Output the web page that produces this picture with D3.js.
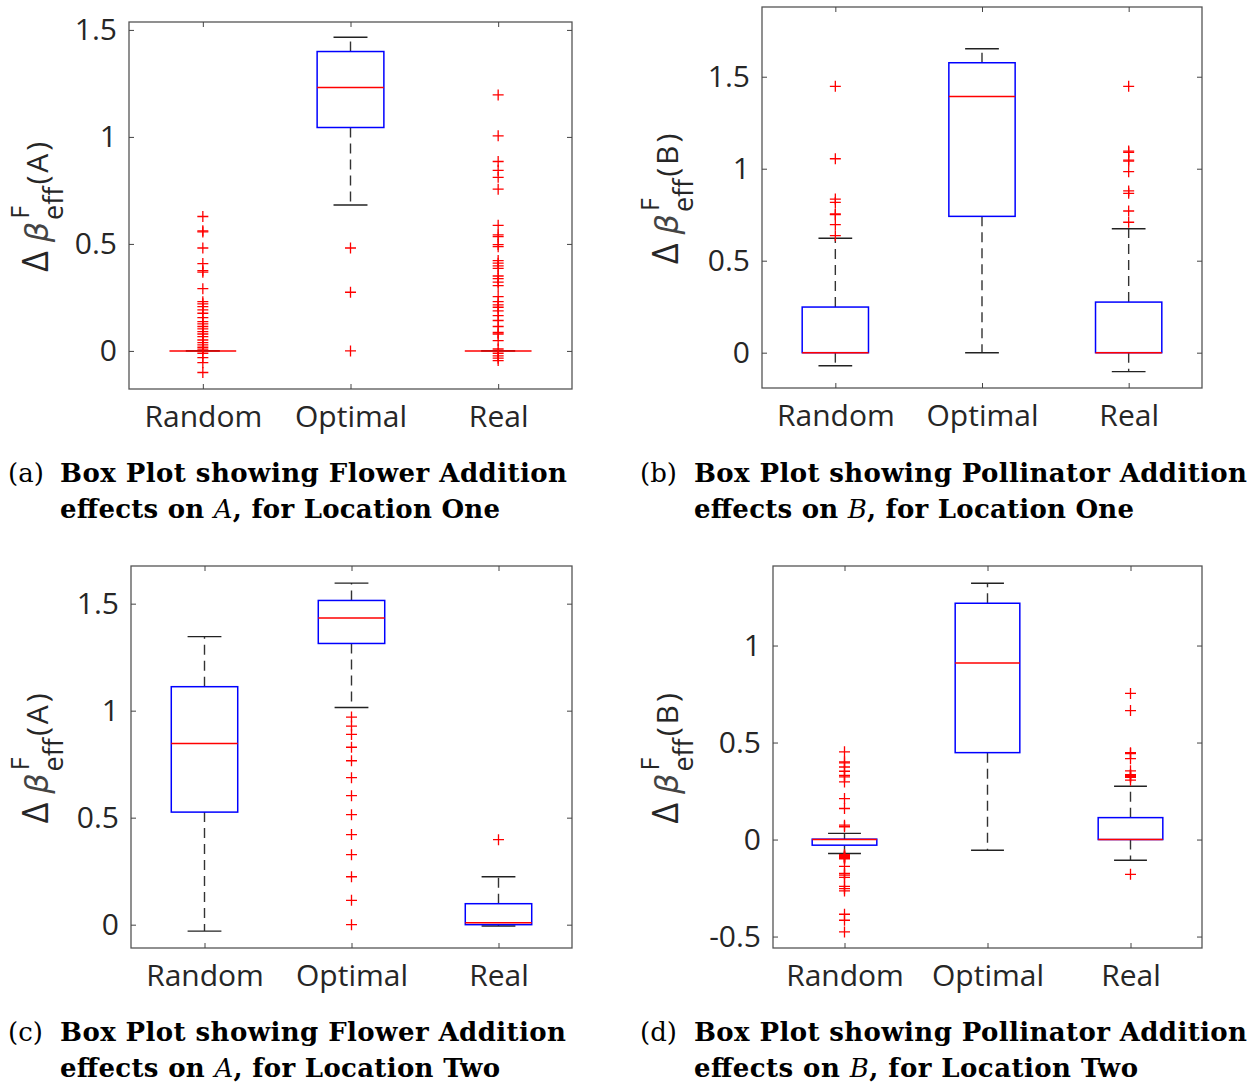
<!DOCTYPE html>
<html>
<head>
<meta charset="utf-8">
<title>box plots</title>
<script src="https://cdn.jsdelivr.net/npm/d3@7"></script>
<style>
  body { margin: 0; background: #fff; }
  .tick text { font-family: "Open Sans", sans-serif; font-size: 30px; fill: #262626; }
  .tick line { stroke: #444; }
  .cap { font-family: "DejaVu Serif", serif; font-size: 26px; fill: #000; }
</style>
</head>
<body>
<script>
// categories and tick values
var categories = ["Random", "Optimal", "Real"];
var ticksABC = [0, 0.5, 1, 1.5];
var ticksD = [-0.5, 0, 0.5, 1];

// box stats per category: [lowWhisker, q1, median, q3, highWhisker]
var statsA = [[0, 0, 0, 0, 0], [0.682, 1.044, 1.231, 1.399, 1.466], [0, 0, 0, 0, 0]];
var statsB = [[-0.071, 0, 0, 0.248, 0.622], [0, 0.741, 1.393, 1.576, 1.652], [-0.103, 0, 0, 0.275, 0.674]];
var statsC = [[-0.030, 0.526, 0.846, 1.112, 1.346], [1.015, 1.314, 1.433, 1.515, 1.596], [-0.006, 0, 0.009, 0.098, 0.224]];
var statsD = [[-0.072, -0.029, 0, 0.002, 0.032], [-0.055, 0.448, 0.910, 1.218, 1.321], [-0.107, 0, 0, 0.113, 0.275]];

// outliers per category
var outA = [
  [0.628, 0.561, 0.556, 0.481, 0.408, 0.375, 0.368, 0.291, 0.230, 0.220, 0.207, 0.192, 0.176, 0.156, 0.137,
   0.126, 0.114, 0.103, 0.090, 0.079, 0.067, 0.051, 0.039, 0.028, 0.017, 0.008, -0.011, -0.031, -0.055, -0.101],
  [0.481, 0.274, 0],
  [1.196, 1.005, 0.885, 0.844, 0.811, 0.756, 0.587, 0.542, 0.534, 0.497, 0.487, 0.422, 0.410, 0.397, 0.386,
   0.350, 0.338, 0.321, 0.305, 0.254, 0.230, 0.215, 0.204, 0.187, 0.165, 0.142, 0.114, 0.086, 0.079, 0.048,
   0.009, -0.011, -0.023, -0.034, -0.045]
];
var outB = [
  [1.448, 1.054, 0.835, 0.817, 0.755, 0.750, 0.696, 0.636],
  [],
  [1.448, 1.096, 1.089, 1.047, 1.041, 0.984, 0.879, 0.866, 0.770, 0.709]
];
var outC = [
  [],
  [0.970, 0.928, 0.889, 0.829, 0.766, 0.687, 0.603, 0.514, 0.421, 0.327, 0.224, 0.114, 0],
  [0.397]
];
var outD = [
  [0.452, 0.400, 0.395, 0.374, 0.352, 0.331, 0.323, 0.297, 0.211, 0.160, 0.074, 0.066,
   -0.078, -0.083, -0.087, -0.090, -0.093, -0.097, -0.100, -0.138, -0.175, -0.183, -0.195,
   -0.241, -0.253, -0.265, -0.385, -0.416, -0.476],
  [],
  [0.753, 0.665, 0.448, 0.443, 0.417, 0.354, 0.335, 0.330, 0.325, 0.320, 0.306, -0.179]
];

// captions
var capLabels = ["(a)", "(b)", "(c)", "(d)"];
var capTitles = ["Box Plot showing Flower Addition", "Box Plot showing Pollinator Addition",
                 "Box Plot showing Flower Addition", "Box Plot showing Pollinator Addition"];
var capVars = ["A", "B", "A", "B"];
var capPlaces = ["One", "One", "Two", "Two"];

var panels = [
  {left: 129, right: 572, top: 22, bottom: 389, domain: [-0.178, 1.537], ticks: ticksABC, stats: statsA, out: outA, labelX: 48, capX: 8, textX: 60, capY: 482, len1: 507, len2: 440},
  {left: 762, right: 1202, top: 7, bottom: 388, domain: [-0.192, 1.879], ticks: ticksABC, stats: statsB, out: outB, labelX: 678, capX: 640, textX: 694, capY: 482, len1: 553, len2: 440},
  {left: 131, right: 572, top: 566, bottom: 948, domain: [-0.109, 1.676], ticks: ticksABC, stats: statsC, out: outC, labelX: 48, capX: 8, textX: 60, capY: 1041, len1: 506, len2: 440},
  {left: 773, right: 1202, top: 566, bottom: 948, domain: [-0.559, 1.410], ticks: ticksD, stats: statsD, out: outD, labelX: 678, capX: 640, textX: 694, capY: 1041, len1: 553, len2: 444}
];

var svg = d3.select("body").append("svg")
  .attr("width", 1256).attr("height", 1082);

panels.forEach(function (p, k) {
  var g = svg.append("g");
  var x = d3.scaleLinear().domain([0.5, 3.5]).range([p.left, p.right]);
  var y = d3.scaleLinear().domain(p.domain).range([p.bottom, p.top]);
  var bw = x(1.226) - x(1);
  var cw = x(1.115) - x(1);

  // frame
  g.append("rect")
    .attr("x", p.left).attr("y", p.top)
    .attr("width", p.right - p.left).attr("height", p.bottom - p.top)
    .attr("fill", "none").attr("stroke", "#555").attr("stroke-width", 1.3);

  // axes, ticks pointing inward
  g.append("g").attr("transform", "translate(" + p.left + ",0)")
    .call(d3.axisLeft(y).tickValues(p.ticks).tickSize(-5).tickPadding(12).tickFormat(function (d) { return String(d); }))
    .call(function (a) { a.select(".domain").remove(); });
  g.append("g").attr("transform", "translate(" + p.right + ",0)")
    .call(d3.axisRight(y).tickValues(p.ticks).tickSize(-5).tickFormat(""))
    .call(function (a) { a.select(".domain").remove(); });
  g.append("g").attr("transform", "translate(0," + p.bottom + ")")
    .call(d3.axisBottom(x).tickValues([1, 2, 3]).tickSize(-5).tickPadding(17)
      .tickFormat(function (d) { return categories[d - 1]; }))
    .call(function (a) { a.select(".domain").remove(); });
  g.append("g").attr("transform", "translate(0," + p.top + ")")
    .call(d3.axisTop(x).tickValues([1, 2, 3]).tickSize(-5).tickFormat(""))
    .call(function (a) { a.select(".domain").remove(); });

  var boxes = g.selectAll(".bx").data(p.stats).enter().append("g").attr("class", "bx");

  // whiskers
  boxes.append("line")
    .attr("x1", function (d, i) { return x(i + 1); }).attr("x2", function (d, i) { return x(i + 1); })
    .attr("y1", function (d) { return y(d[3]); }).attr("y2", function (d) { return y(d[4]); })
    .attr("stroke", "#333").attr("stroke-width", 1.4).attr("stroke-dasharray", "10,6");
  boxes.append("line")
    .attr("x1", function (d, i) { return x(i + 1); }).attr("x2", function (d, i) { return x(i + 1); })
    .attr("y1", function (d) { return y(d[1]); }).attr("y2", function (d) { return y(d[0]); })
    .attr("stroke", "#333").attr("stroke-width", 1.4).attr("stroke-dasharray", "10,6");
  // caps
  [0, 4].forEach(function (j) {
    boxes.append("line")
      .attr("x1", function (d, i) { return x(i + 1) - cw; }).attr("x2", function (d, i) { return x(i + 1) + cw; })
      .attr("y1", function (d) { return y(d[j]); }).attr("y2", function (d) { return y(d[j]); })
      .attr("stroke", "#222").attr("stroke-width", 1.4);
  });
  // box
  boxes.append("rect")
    .attr("x", function (d, i) { return x(i + 1) - bw; })
    .attr("width", 2 * bw)
    .attr("y", function (d) { return y(d[3]); })
    .attr("height", function (d) { return y(d[1]) - y(d[3]); })
    .attr("fill", "none").attr("stroke", "#0000ff").attr("stroke-width", 1.5);
  // median
  boxes.append("line")
    .attr("x1", function (d, i) { return x(i + 1) - bw; }).attr("x2", function (d, i) { return x(i + 1) + bw; })
    .attr("y1", function (d) { return y(d[2]); }).attr("y2", function (d) { return y(d[2]); })
    .attr("stroke", "#ff0000").attr("stroke-width", 1.5);

  // outliers
  var pts = [];
  p.out.forEach(function (arr, i) { arr.forEach(function (v) { pts.push([i + 1, v]); }); });
  g.selectAll(".ol").data(pts).enter().append("path").attr("class", "ol")
    .attr("d", function (d) {
      var cx = x(d[0]), cy = y(d[1]), r = 5.5;
      return "M" + (cx - r) + "," + cy + "H" + (cx + r) + "M" + cx + "," + (cy - r) + "V" + (cy + r);
    })
    .attr("stroke", "#ff0000").attr("stroke-width", 1.3).attr("fill", "none");

  // y label
  var cy = (p.top + p.bottom) / 2;
  var lab = g.append("text")
    .attr("transform", "translate(" + p.labelX + "," + cy + ") rotate(-90)")
    .attr("text-anchor", "middle")
    .style("font-family", "'Open Sans', sans-serif").style("font-size", "30px").style("fill", "#262626");
  lab.append("tspan").style("font-size", "36px").text("\u0394");
  lab.append("tspan").attr("dx", 9).style("font-style", "italic").style("font-family", "'DejaVu Sans', sans-serif")
    .style("font-size", "32px").style("fill", "#444").text("\u03b2");
  lab.append("tspan").attr("dy", -19).attr("dx", 3).style("font-size", "25px").text("F");
  lab.append("tspan").attr("dy", 34).attr("dx", -14).style("font-size", "27px").text("eff");
  lab.append("tspan").attr("dy", -15).attr("dx", 2).style("letter-spacing", "3px").text("(" + capVars[k] + ")");

  // caption
  g.append("text").attr("class", "cap").attr("x", p.capX).attr("y", p.capY).text(capLabels[k]);
  g.append("text").attr("class", "cap").attr("x", p.textX).attr("y", p.capY)
    .attr("textLength", p.len1).attr("lengthAdjust", "spacing")
    .style("font-weight", "bold").text(capTitles[k]);
  var l2 = g.append("text").attr("class", "cap").attr("x", p.textX).attr("y", p.capY + 36)
    .attr("textLength", p.len2).attr("lengthAdjust", "spacing").style("font-weight", "bold");
  l2.append("tspan").text("effects on ");
  l2.append("tspan").style("font-style", "italic").style("font-weight", "normal").text(capVars[k]);
  l2.append("tspan").text(", for Location " + capPlaces[k]);
});
</script>
</body>
</html>
